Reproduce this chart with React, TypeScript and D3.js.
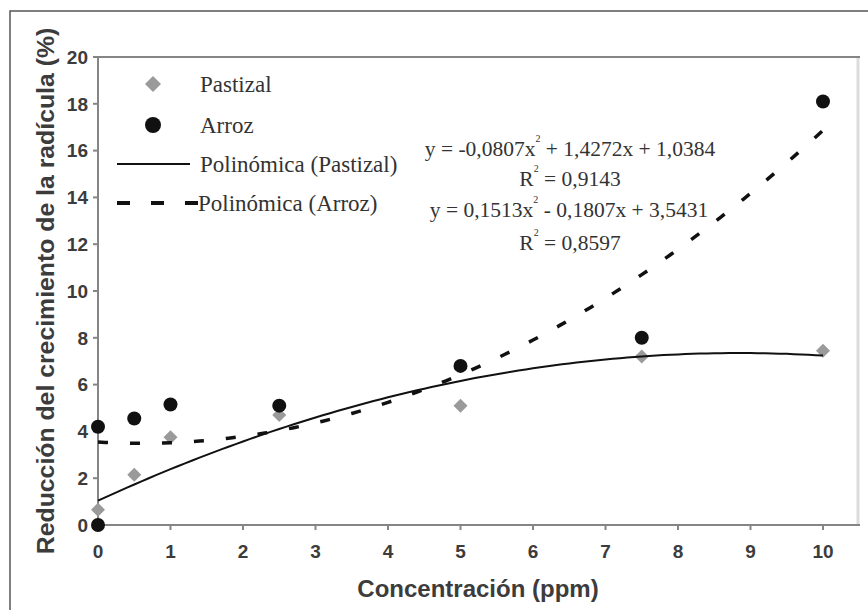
import React from "react";
import * as d3 from "d3";

const concentrations = [0, 0.5, 1, 2.5, 5, 7.5, 10];
const pastizalValues = [0.65, 2.15, 3.75, 4.7, 5.1, 7.2, 7.45];
const arrozX = [0, 0, 0.5, 1, 2.5, 5, 7.5, 10];
const arrozValues = [0, 4.2, 4.55, 5.15, 5.1, 6.8, 8.0, 18.1];
const xTicks = [0, 1, 2, 3, 4, 5, 6, 7, 8, 9, 10];
const yTicks = [0, 2, 4, 6, 8, 10, 12, 14, 16, 18, 20];
// trendline coefficients as printed on the chart: c0 + c1 x + c2 x^2
const pastizalCoef = [1.0384, 1.4272, -0.0807];
const arrozCoef = [3.5431, -0.1807, 0.1513];
const legendLabels = ["Pastizal", "Arroz", "Polinómica (Pastizal)", "Polinómica (Arroz)"];
const equationPastizal = ["y = -0,0807x", "2", " + 1,4272x + 1,0384"];
const r2Pastizal = ["R", "2", " = 0,9143"];
const equationArroz = ["y = 0,1513x", "2", " - 0,1807x + 3,5431"];
const r2Arroz = ["R", "2", " = 0,8597"];
const xTitle = "Concentración (ppm)";
const yTitle = "Reducción del crecimiento de la radícula (%)";

const W = 868;
const H = 610;
const left = 98;
const plotRight = 858;
const top = 57;
const bottom = 525;

const x = d3.scaleLinear().domain([0, 10]).range([left, 823]);
const y = d3.scaleLinear().domain([0, 20]).range([bottom, top]);

const samples = d3.range(0, 10.0001, 0.1);
const poly = (c: number[]) => (v: number) => c[0] + c[1] * v + c[2] * v * v;
const line = d3
  .line<number>()
  .x((d) => x(d))
  .curve(d3.curveLinear);

const diamond = (cx: number, cy: number, s: number) =>
  `M${cx},${cy - s}L${cx + s},${cy}L${cx},${cy + s}L${cx - s},${cy}Z`;

const AXIS = "#858585";
const GRAY = "#9a9a9a";
const SERIF = "'Liberation Serif', 'Times New Roman', serif";
const SANS = "'Liberation Sans', Arial, sans-serif";

function Eq({ parts, cx, by }: { parts: string[]; cx: number; by: number }) {
  return (
    <text x={cx} y={by} textAnchor="middle" fontFamily={SERIF} fontSize={21.5} fill="#333">
      {parts[0]}
      <tspan dy={-14} fontSize={10}>{parts[1]}</tspan>
      <tspan dy={14}>{parts[2]}</tspan>
    </text>
  );
}

export default function App() {
  const pf = poly(pastizalCoef);
  const af = poly(arrozCoef);
  const pPath = line.y((d) => y(pf(d)))(samples) || "";
  const aPath = line.y((d) => y(af(d)))(samples) || "";
  return (
    <svg
      width={W}
      height={H}
      style={{ position: "absolute", left: 0, top: 0, background: "#fff" }}
    >
      <rect x={0} y={0} width={W} height={H} fill="#fff" />
      {/* outer frame */}
      <path d={`M10,${H + 2}V11H${W + 2}`} fill="none" stroke="#555" strokeWidth={1.5} />
      {/* plot area border */}
      <line x1={plotRight} x2={plotRight} y1={top} y2={bottom} stroke="#dcdcdc" strokeWidth={3} />
      <line x1={left} x2={plotRight + 2} y1={top} y2={top} stroke={AXIS} strokeWidth={2} />
      {/* axes */}
      <line x1={left} x2={left} y1={top} y2={bottom} stroke={AXIS} strokeWidth={2} />
      <line x1={left} x2={plotRight + 2} y1={bottom} y2={bottom} stroke={AXIS} strokeWidth={2} />
      {yTicks.map((t) => (
        <g key={"y" + t}>
          <line x1={left - 5} x2={left} y1={y(t)} y2={y(t)} stroke={AXIS} strokeWidth={2} />
          <text
            x={88}
            y={y(t)}
            dy="0.36em"
            textAnchor="end"
            fontFamily={SANS}
            fontWeight="bold"
            fontSize={19}
            fill="#3c3c3c"
          >
            {t}
          </text>
        </g>
      ))}
      {xTicks.map((t) => (
        <g key={"x" + t}>
          <line x1={x(t)} x2={x(t)} y1={bottom} y2={bottom + 5} stroke={AXIS} strokeWidth={2} />
          <text
            x={x(t)}
            y={558}
            textAnchor="middle"
            fontFamily={SANS}
            fontWeight="bold"
            fontSize={19}
            fill="#3c3c3c"
          >
            {t}
          </text>
        </g>
      ))}
      {/* titles */}
      <text
        x={(left + plotRight) / 2}
        y={597}
        textAnchor="middle"
        fontFamily={SANS}
        fontWeight="bold"
        fontSize={24}
        fill="#3c3c3c"
      >
        {xTitle}
      </text>
      <text
        transform={`translate(54, ${(top + bottom) / 2}) rotate(-90)`}
        textAnchor="middle"
        fontFamily={SANS}
        fontWeight="bold"
        fontSize={24.8}
        fill="#3c3c3c"
      >
        {yTitle}
      </text>
      {/* markers */}
      {concentrations.map((c, i) => (
        <path key={"p" + i} d={diamond(x(c), y(pastizalValues[i]), 7)} fill={GRAY} />
      ))}
      {arrozX.map((c, i) => (
        <circle key={"a" + i} cx={x(c)} cy={y(arrozValues[i])} r={7} fill="#111" />
      ))}
      {/* trendlines */}
      <path d={pPath} fill="none" stroke="#111" strokeWidth={2} />
      <path d={aPath} fill="none" stroke="#111" strokeWidth={3.5} strokeDasharray="10 22" />
      {/* legend */}
      <path d={diamond(153, 84, 8)} fill={GRAY} />
      <circle cx={153} cy={125} r={8} fill="#111" />
      <line x1={117} x2={190} y1={164} y2={164} stroke="#111" strokeWidth={2} />
      <line x1={117} x2={198} y1={203} y2={203} stroke="#111" strokeWidth={4} strokeDasharray="13 21" />
      {legendLabels.map((l, i) => (
        <text
          key={l}
          x={i === 3 ? 198 : 200}
          y={[84, 125, 164, 203][i]}
          dy="0.33em"
          fontFamily={SERIF}
          fontSize={23}
          fill="#333"
        >
          {l}
        </text>
      ))}
      {/* equations */}
      <Eq parts={equationPastizal} cx={570} by={156} />
      <Eq parts={r2Pastizal} cx={570} by={186} />
      <Eq parts={equationArroz} cx={569} by={217} />
      <Eq parts={r2Arroz} cx={570} by={250} />
    </svg>
  );
}
